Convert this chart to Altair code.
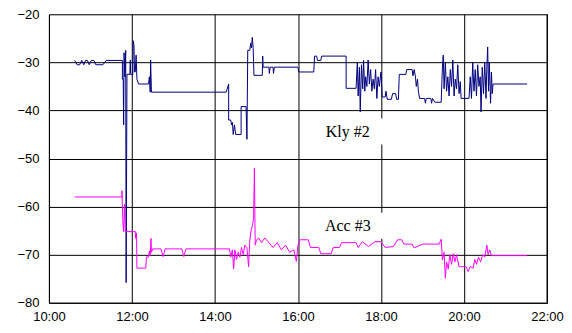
import altair as alt
import pandas as pd

# Kly #2 (navy) : hours, dB
kly_t = [10.62, 10.68, 10.74, 10.79, 10.84, 10.88, 10.93, 10.97, 11.02, 11.08, 11.13, 11.30, 11.38, 11.77, 11.77,
         11.79, 11.80, 11.81, 11.83, 11.85, 11.86, 11.88, 11.95, 11.96, 11.97, 12.02, 12.03, 12.05, 12.06, 12.08,
         12.10, 12.12, 12.16, 12.40, 12.42, 12.44, 12.45, 12.47, 14.27, 14.33, 14.33, 14.38, 14.40, 14.42, 14.44,
         14.47, 14.50, 14.63, 14.63, 14.75, 14.77, 14.79, 14.84, 14.86, 14.88, 14.90, 14.92, 14.94, 15.14, 15.15,
         15.16, 15.30, 15.31, 15.33, 15.40, 15.41, 15.43, 16.00, 16.02, 16.38, 16.40, 16.45, 16.47, 16.55, 16.57,
         17.16, 17.16, 17.40, 17.43, 17.45, 17.48, 17.50, 17.53, 17.56, 17.58, 17.61, 17.63, 17.66, 17.69, 17.72,
         17.75, 17.78, 17.81, 17.84, 17.87, 17.90, 17.93, 17.96, 18.00, 18.03, 18.10, 18.12, 18.15, 18.25, 18.28,
         18.35, 18.38, 18.42, 18.44, 18.60, 18.62, 18.75, 18.77, 18.80, 18.83, 18.85, 18.88, 18.90, 18.93, 19.05,
         19.07, 19.09, 19.20, 19.22, 19.24, 19.30, 19.45, 19.48, 19.50, 19.52, 19.55, 19.58, 19.61, 19.64, 19.67,
         19.70, 19.73, 19.76, 19.79, 19.82, 19.85, 19.88, 19.91, 19.93, 20.12, 20.15, 20.18, 20.21, 20.24, 20.27,
         20.30, 20.33, 20.36, 20.39, 20.41, 20.44, 20.47, 20.50, 20.53, 20.55, 20.57, 20.59, 20.61, 20.64, 20.66,
         20.68, 20.70, 21.52]
kly_v = [-29.6, -30.5, -30.5, -29.6, -30.5, -29.6, -29.6, -30.5, -29.6, -29.6, -30.5, -30.5, -29.6, -29.6, -33.5,
         -33.5, -43.0, -28.0, -33.0, -27.5, -75.8, -32.5, -32.5, -29.5, -32.5, -32.5, -25.5, -26.5, -32.0, -32.0,
         -28.5, -33.5, -34.5, -34.5, -33.0, -36.2, -29.5, -36.2, -36.2, -34.5, -42.0, -42.0, -43.0, -42.5, -45.0,
         -43.0, -45.0, -45.0, -39.2, -39.2, -46.0, -27.5, -27.5, -26.0, -27.0, -24.8, -27.0, -32.7, -32.7, -28.7,
         -31.0, -31.0, -32.3, -31.0, -31.0, -32.3, -31.0, -31.0, -32.0, -32.0, -28.7, -28.7, -29.6, -29.6, -28.7,
         -28.7, -35.4, -35.4, -30.0, -37.0, -31.0, -40.3, -30.5, -35.5, -29.6, -36.0, -33.0, -35.0, -29.5, -34.5,
         -31.5, -36.0, -33.5, -35.5, -31.5, -37.5, -33.0, -35.0, -32.0, -37.2, -37.2, -36.0, -37.7, -37.7, -36.5,
         -36.5, -37.7, -37.7, -32.5, -32.5, -31.5, -31.5, -32.8, -31.5, -33.0, -35.0, -33.5, -36.0, -37.5, -37.5,
         -38.5, -37.5, -37.5, -38.5, -37.5, -38.3, -38.3, -31.0, -28.5, -35.5, -30.0, -36.0, -33.0, -37.0, -31.5,
         -35.0, -29.5, -37.0, -33.5, -35.5, -30.5, -36.5, -34.0, -37.5, -37.5, -33.0, -37.5, -30.0, -36.0, -31.5,
         -37.0, -30.5, -35.0, -33.0, -40.3, -31.0, -36.5, -30.0, -37.5, -31.0, -26.8, -36.0, -30.0, -38.5, -32.0,
         -36.5, -34.5, -34.5]

# Acc #3 (magenta)
acc_t = [10.62, 11.76, 11.76, 11.78, 11.80, 11.82, 11.84, 12.08, 12.09, 12.11, 12.12, 12.33, 12.35, 12.40, 12.42,
         12.44, 12.46, 12.47, 12.50, 12.70, 12.75, 12.80, 13.20, 13.25, 13.30, 14.35, 14.38, 14.42, 14.45, 14.48,
         14.52, 14.56, 14.60, 14.64, 14.68, 14.72, 14.77, 14.81, 14.84, 14.87, 14.90, 14.93, 14.95, 14.97, 15.00,
         15.05, 15.12, 15.20, 15.30, 15.40, 15.50, 15.60, 15.70, 15.80, 15.90, 15.96, 16.00, 16.05, 16.25, 16.30,
         16.50, 16.55, 16.80, 16.85, 17.00, 17.05, 17.40, 17.45, 17.55, 17.70, 17.85, 18.00, 18.10, 18.30, 18.40,
         18.50, 18.55, 18.75, 18.80, 19.00, 19.40, 19.45, 19.48, 19.52, 19.55, 19.58, 19.62, 19.66, 19.70, 19.74,
         19.78, 19.82, 19.88, 20.05, 20.10, 20.15, 20.22, 20.26, 20.30, 20.35, 20.40, 20.45, 20.50, 20.55, 20.58,
         20.62, 20.66, 21.52]
acc_v = [-58.0, -58.0, -56.7, -63.0, -65.2, -59.5, -65.2, -65.2, -66.6, -65.5, -72.8, -72.8, -70.5, -70.5, -69.2,
         -70.2, -66.6, -69.5, -68.8, -68.8, -70.4, -68.8, -68.8, -70.4, -68.8, -68.8, -70.5, -69.0, -73.0, -69.0,
         -71.0, -69.5, -70.5, -68.5, -70.0, -68.0, -68.5, -72.5, -67.0, -65.0, -64.0, -62.5, -52.0, -68.0, -67.0,
         -66.5, -67.5, -66.5, -67.5, -68.5, -67.5, -69.0, -68.0, -69.5, -69.0, -71.4, -68.0, -66.9, -66.9, -68.5,
         -68.5, -69.8, -69.8, -68.5, -68.5, -67.5, -67.5, -68.5, -67.3, -68.3, -67.3, -67.3, -68.5, -68.3, -66.9,
         -66.9, -67.8, -67.8, -68.6, -67.8, -67.8, -66.8, -71.1, -69.5, -74.9, -71.5, -73.0, -70.0, -72.0, -69.8,
         -71.5, -70.0, -72.5, -72.5, -73.5, -72.5, -72.8, -71.0, -72.0, -70.5, -71.5, -70.0, -70.5, -68.0, -70.0,
         -69.0, -70.2, -70.2]

x_ticks = [10, 12, 14, 16, 18, 20, 22]
y_ticks = [-80, -70, -60, -50, -40, -30, -20]
labels = ["Kly #2", "Acc #3"]
label_t = [17.20, 17.20]
label_v = [-44.4, -64.0]

df = pd.concat([
    pd.DataFrame({"t": kly_t, "v": kly_v, "s": "Kly #2", "i": range(len(kly_t))}),
    pd.DataFrame({"t": acc_t, "v": acc_v, "s": "Acc #3", "i": range(len(acc_t))}),
])
lab = pd.DataFrame({"t": label_t, "v": label_v, "txt": labels})

xs = alt.Scale(domain=[10, 22], nice=False)
ys = alt.Scale(domain=[-80, -20], nice=False)

lines = alt.Chart(df).mark_line(strokeWidth=1, interpolate="linear").encode(
    x=alt.X("t:Q", scale=xs, axis=alt.Axis(values=x_ticks, labelExpr="datum.value + ':00'", title=None,
                                           grid=True, gridColor="#000", gridWidth=1, ticks=False,
                                           domainColor="#000", labelFontSize=13, labelPadding=8,
                                           labelFlush=False, labelOverlap=False,
                                           labelFont="Liberation Sans", labelColor="#000")),
    y=alt.Y("v:Q", scale=ys, axis=alt.Axis(values=y_ticks, title=None, grid=True, gridColor="#000",
                                           gridWidth=1, ticks=False, domainColor="#000", labelFontSize=13,
                                           labelPadding=10, labelFlush=False, labelOverlap=False,
                                           labelFont="Liberation Sans", labelColor="#000")),
    color=alt.Color("s:N", scale=alt.Scale(domain=["Kly #2", "Acc #3"], range=["#000080", "#ff00ff"]), legend=None),
    detail="s:N",
    order="i:Q",
)

boxes = alt.Chart(lab).mark_rect(color="white", width=74, height=26).encode(
    x="t:Q", y="v:Q"
)
texts = alt.Chart(lab).mark_text(font="Liberation Serif", fontSize=16, color="#000").encode(
    x="t:Q", y="v:Q", text="txt:N"
)
border = alt.Chart(pd.DataFrame({"a": [0]})).mark_rule(color="#000", strokeWidth=1).encode(
    x=alt.value(499), y=alt.value(0), y2=alt.value(289)
)

chart = alt.layer(lines, boxes, texts, border).properties(
    width=499, height=289, padding={"left": 8, "top": 0, "right": 0, "bottom": 0}
).configure_view(stroke=None).configure(background="white")

chart.save("out.html", embed_options={"renderer": "svg", "actions": False})
